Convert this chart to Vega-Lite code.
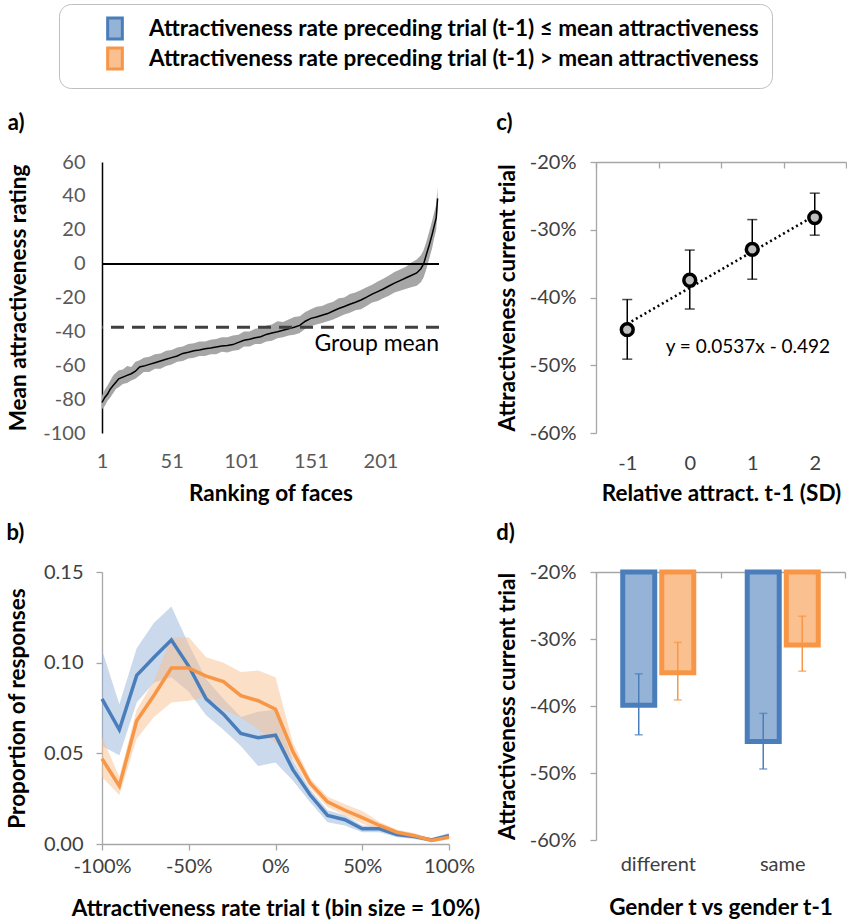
{
  "$schema": "https://vega.github.io/schema/vega-lite/v6.json",
  "padding": {"left": 6, "top": 3, "right": 0, "bottom": 0},
  "background": "white",
  "columns": 2,
  "spacing": {"row": 138, "column": 147},
  "bounds": "flush",
  "align": "all",
  "config": {
    "font": "Lato",
    "view": {"stroke": null},
    "axis": {"labelFontSize": 20, "titleFontSize": 22.5, "titleFontWeight": "bold", "titleColor": "black", "labelColor": "#404040", "grid": false, "domainColor": "#a6a6a6", "tickColor": "#a6a6a6", "domainWidth": 1.3, "tickWidth": 1.3, "labelOverlap": false, "labelFlush": false},
    "title": {"fontSize": 22, "fontWeight": "bold", "anchor": "start", "color": "black", "offset": 17}
  },
  "concat": [
    {
      "width": 337, "height": 271,
      "title": {"text": "a)"},
      "data": {"values": [
        {"r":1,"m":-82,"lo":-86,"hi":-78},{"r":3,"m":-79,"lo":-84,"hi":-74.5},{"r":5,"m":-77,"lo":-81,"hi":-72},{"r":7,"m":-74,"lo":-79,"hi":-69},
        {"r":9,"m":-72,"lo":-76.5,"hi":-66},{"r":11,"m":-70,"lo":-74,"hi":-64.5},{"r":13,"m":-68,"lo":-73,"hi":-63},{"r":16,"m":-67,"lo":-71,"hi":-62.5},
        {"r":19,"m":-66,"lo":-70.5,"hi":-60.5},{"r":22,"m":-65,"lo":-69,"hi":-61},{"r":25,"m":-63.5,"lo":-68,"hi":-58},{"r":28,"m":-61,"lo":-66,"hi":-57},
        {"r":31,"m":-60.5,"lo":-64,"hi":-55.5},{"r":35,"m":-59.5,"lo":-64,"hi":-55},{"r":39,"m":-58.5,"lo":-62,"hi":-53.5},{"r":43,"m":-57.5,"lo":-62,"hi":-53},
        {"r":47,"m":-56.5,"lo":-60.5,"hi":-51.5},{"r":51,"m":-55.5,"lo":-59.5,"hi":-51},{"r":55,"m":-54.5,"lo":-58,"hi":-49.5},{"r":59,"m":-53,"lo":-57.5,"hi":-49},
        {"r":63,"m":-52.3,"lo":-56,"hi":-47.5},{"r":67,"m":-51.5,"lo":-55.5,"hi":-47},{"r":71,"m":-51,"lo":-54.5,"hi":-46},{"r":75,"m":-50.3,"lo":-54.5,"hi":-46},
        {"r":79,"m":-49.8,"lo":-53.5,"hi":-45},{"r":83,"m":-49.2,"lo":-53.5,"hi":-44.5},{"r":87,"m":-48.7,"lo":-52,"hi":-43.5},{"r":91,"m":-48.3,"lo":-52.5,"hi":-43.5},
        {"r":95,"m":-47.8,"lo":-51.5,"hi":-42.5},{"r":99,"m":-46.5,"lo":-51,"hi":-42},{"r":103,"m":-45.2,"lo":-49,"hi":-40},{"r":107,"m":-44.6,"lo":-49,"hi":-40},
        {"r":111,"m":-43.8,"lo":-47.5,"hi":-38.5},{"r":115,"m":-43.2,"lo":-47.5,"hi":-38},{"r":119,"m":-41.8,"lo":-46,"hi":-36.5},{"r":123,"m":-41,"lo":-45.5,"hi":-36},
        {"r":127,"m":-40.2,"lo":-44,"hi":-34},{"r":131,"m":-39.3,"lo":-43.5,"hi":-34.5},{"r":135,"m":-38.5,"lo":-42.5,"hi":-33},{"r":139,"m":-37.6,"lo":-42,"hi":-31.5},
        {"r":143,"m":-36.5,"lo":-41,"hi":-31},{"r":147,"m":-34,"lo":-38.5,"hi":-28.5},{"r":151,"m":-32.3,"lo":-37,"hi":-27},{"r":155,"m":-31.5,"lo":-36,"hi":-25.5},
        {"r":159,"m":-30.5,"lo":-35,"hi":-25},{"r":163,"m":-29.5,"lo":-34,"hi":-23.5},{"r":167,"m":-28,"lo":-33,"hi":-22.5},{"r":171,"m":-26.5,"lo":-31.5,"hi":-20.5},
        {"r":175,"m":-25.3,"lo":-30,"hi":-20},{"r":179,"m":-24,"lo":-29,"hi":-18},{"r":183,"m":-22.8,"lo":-27.5,"hi":-17},{"r":187,"m":-21.5,"lo":-27,"hi":-15.5},
        {"r":191,"m":-19.8,"lo":-25,"hi":-14},{"r":195,"m":-18,"lo":-23,"hi":-12.5},{"r":199,"m":-16.5,"lo":-22,"hi":-10.5},{"r":203,"m":-15,"lo":-20.5,"hi":-9},
        {"r":207,"m":-13.2,"lo":-19,"hi":-7},{"r":211,"m":-11.5,"lo":-17,"hi":-5},{"r":215,"m":-10,"lo":-16,"hi":-3.5},{"r":219,"m":-8.5,"lo":-15,"hi":-2},
        {"r":223,"m":-7,"lo":-14,"hi":0.5},{"r":227,"m":-5.5,"lo":-13,"hi":2.5},{"r":230,"m":-3,"lo":-11,"hi":5},{"r":232,"m":0,"lo":-8,"hi":8},
        {"r":234,"m":5.5,"lo":-3,"hi":13},{"r":236,"m":11,"lo":3,"hi":19},{"r":238,"m":17,"lo":9,"hi":25},{"r":239.5,"m":22,"lo":15,"hi":30},
        {"r":241,"m":27,"lo":20,"hi":35},{"r":242,"m":38.5,"lo":32,"hi":45}
      ]},
      "layer": [
        {
          "mark": {"type": "area", "color": "#a6a6a6"},
          "encoding": {
            "x": {"field": "r", "type": "quantitative", "scale": {"domain": [1, 243], "nice": false, "zero": false},
                  "axis": {"values": [1, 51, 101, 151, 201], "domain": false, "ticks": false, "labelPadding": 18, "labelColor": "#595959", "labelExpr": "'' + datum.value", "title": "Ranking of faces", "titlePadding": 11}},
            "y": {"field": "lo", "type": "quantitative", "scale": {"domain": [-100, 60], "nice": false, "zero": false},
                  "axis": {"tickCount": 8, "labelOverlap": false, "labelSeparation": 0, "tickSize": 0, "domainColor": "black", "domainWidth": 1.5, "labelPadding": 17, "labelColor": "#595959", "labelExpr": "'' + datum.value", "title": "Mean attractiveness rating", "titlePadding": 12}},
            "y2": {"field": "hi"}
          }
        },
        {
          "mark": {"type": "line", "color": "black", "strokeWidth": 1.5},
          "encoding": {"x": {"field": "r", "type": "quantitative"}, "y": {"field": "m", "type": "quantitative"}}
        },
        {
          "mark": {"type": "rule", "color": "black", "strokeWidth": 1.5},
          "encoding": {"y": {"datum": 0}}
        },
        {
          "data": {"values": [{"label": "Group mean", "r": 243, "m": -37.5}]},
          "layer": [
            {"mark": {"type": "rule", "color": "#404040", "strokeWidth": 3, "strokeDash": [13, 8]},
             "encoding": {"y": {"field": "m", "type": "quantitative"}}},
            {"mark": {"type": "text", "align": "right", "baseline": "top", "dy": 6, "fontSize": 23, "color": "black"},
             "encoding": {"x": {"field": "r", "type": "quantitative"}, "y": {"field": "m", "type": "quantitative"}, "text": {"field": "label"}}}
          ]
        }
      ]
    },
    {
      "width": 250, "height": 271,
      "title": {"text": "c)"},
      "data": {"values": [
        {"sd": -1, "m": -0.4475, "lo": -0.491, "hi": -0.403},
        {"sd": 0, "m": -0.3745, "lo": -0.417, "hi": -0.330},
        {"sd": 1, "m": -0.329, "lo": -0.373, "hi": -0.285},
        {"sd": 2, "m": -0.282, "lo": -0.308, "hi": -0.246}
      ]},
      "resolve": {"axis": {"x": "independent"}},
      "layer": [
        {
          "data": {"values": [{"sd": -1, "fit": -0.439}, {"sd": 2, "fit": -0.279}]},
          "mark": {"type": "line", "color": "black", "strokeWidth": 2.5, "strokeDash": [2, 3]},
          "encoding": {
            "x": {"field": "sd", "type": "quantitative", "scale": {"domain": [-1.5, 2.5], "nice": false, "zero": false},
                  "axis": {"orient": "top", "values": [-1.5, -0.5, 0.5, 1.5, 2.5], "labels": false, "tickSize": -6, "title": null}},
            "y": {"field": "fit", "type": "quantitative", "scale": {"domain": [-0.6, -0.2], "nice": false, "zero": false},
                  "axis": {"values": [-0.6, -0.5, -0.4, -0.3, -0.2], "tickSize": 6, "labelPadding": 14, "labelExpr": "round(datum.value*100) + '%'", "title": "Attractiveness current trial", "titlePadding": 10}}
          }
        },
        {
          "mark": {"type": "rule", "color": "black", "strokeWidth": 1.5},
          "encoding": {
            "x": {"field": "sd", "type": "quantitative",
                  "axis": {"values": [-1, 0, 1, 2], "domain": false, "ticks": false, "labelPadding": 20, "labelExpr": "'' + datum.value", "title": "Relative attract. t-1 (SD)", "titlePadding": 9}},
            "y": {"field": "lo", "type": "quantitative"},
            "y2": {"field": "hi"}
          }
        },
        {
          "mark": {"type": "tick", "orient": "horizontal", "color": "black", "size": 10, "thickness": 1.5},
          "encoding": {"x": {"field": "sd", "type": "quantitative", "axis": null}, "y": {"field": "lo", "type": "quantitative"}}
        },
        {
          "mark": {"type": "tick", "orient": "horizontal", "color": "black", "size": 10, "thickness": 1.5},
          "encoding": {"x": {"field": "sd", "type": "quantitative", "axis": null}, "y": {"field": "hi", "type": "quantitative"}}
        },
        {
          "mark": {"type": "point", "shape": "circle", "filled": true, "size": 140, "fill": "#bfbfbf", "stroke": "black", "strokeWidth": 3.5, "opacity": 1},
          "encoding": {"x": {"field": "sd", "type": "quantitative", "axis": null}, "y": {"field": "m", "type": "quantitative"}}
        },
        {
          "data": {"values": [{"sd": 0.93, "m": -0.4735, "label": "y = 0.0537x - 0.492"}]},
          "mark": {"type": "text", "fontSize": 19, "color": "black"},
          "encoding": {"x": {"field": "sd", "type": "quantitative", "axis": null}, "y": {"field": "m", "type": "quantitative"}, "text": {"field": "label"}}
        }
      ]
    },
    {
      "width": 347, "height": 272,
      "title": {"text": "b)"},
      "data": {"values": [
        {"bin":-100,"g":"low","m":0.080,"lo":0.054,"hi":0.107},{"bin":-90,"g":"low","m":0.063,"lo":0.049,"hi":0.077},
        {"bin":-80,"g":"low","m":0.093,"lo":0.078,"hi":0.108},{"bin":-70,"g":"low","m":0.103,"lo":0.089,"hi":0.122},
        {"bin":-60,"g":"low","m":0.1125,"lo":0.092,"hi":0.131},{"bin":-50,"g":"low","m":0.098,"lo":0.084,"hi":0.110},
        {"bin":-40,"g":"low","m":0.080,"lo":0.071,"hi":0.091},{"bin":-30,"g":"low","m":0.0716,"lo":0.063,"hi":0.080},
        {"bin":-20,"g":"low","m":0.061,"lo":0.054,"hi":0.070},{"bin":-10,"g":"low","m":0.0586,"lo":0.043,"hi":0.073},
        {"bin":0,"g":"low","m":0.060,"lo":0.045,"hi":0.074},{"bin":10,"g":"low","m":0.041,"lo":0.035,"hi":0.046},
        {"bin":20,"g":"low","m":0.027,"lo":0.023,"hi":0.030},{"bin":30,"g":"low","m":0.0158,"lo":0.012,"hi":0.0186},
        {"bin":40,"g":"low","m":0.0134,"lo":0.0102,"hi":0.0158},{"bin":50,"g":"low","m":0.0084,"lo":0.0065,"hi":0.0102},
        {"bin":60,"g":"low","m":0.0084,"lo":0.0065,"hi":0.0102},{"bin":70,"g":"low","m":0.0052,"lo":0.0037,"hi":0.0065},
        {"bin":80,"g":"low","m":0.0041,"lo":0.0028,"hi":0.0052},{"bin":90,"g":"low","m":0.0022,"lo":0.0011,"hi":0.0033},
        {"bin":100,"g":"low","m":0.0046,"lo":0.0033,"hi":0.006},
        {"bin":-100,"g":"high","m":0.047,"lo":0.037,"hi":0.059},{"bin":-90,"g":"high","m":0.032,"lo":0.027,"hi":0.037},
        {"bin":-80,"g":"high","m":0.068,"lo":0.058,"hi":0.074},{"bin":-70,"g":"high","m":0.082,"lo":0.070,"hi":0.090},
        {"bin":-60,"g":"high","m":0.097,"lo":0.078,"hi":0.114},{"bin":-50,"g":"high","m":0.097,"lo":0.079,"hi":0.114},
        {"bin":-40,"g":"high","m":0.0926,"lo":0.081,"hi":0.103},{"bin":-30,"g":"high","m":0.0896,"lo":0.0743,"hi":0.100},
        {"bin":-20,"g":"high","m":0.0818,"lo":0.0697,"hi":0.0948},{"bin":-10,"g":"high","m":0.079,"lo":0.0632,"hi":0.0957},
        {"bin":0,"g":"high","m":0.0743,"lo":0.0558,"hi":0.092},{"bin":10,"g":"high","m":0.051,"lo":0.0465,"hi":0.0558},
        {"bin":20,"g":"high","m":0.0335,"lo":0.0307,"hi":0.0362},{"bin":30,"g":"high","m":0.0232,"lo":0.0204,"hi":0.026},
        {"bin":40,"g":"high","m":0.0186,"lo":0.0158,"hi":0.0219},{"bin":50,"g":"high","m":0.0145,"lo":0.0112,"hi":0.0182},
        {"bin":60,"g":"high","m":0.0102,"lo":0.0084,"hi":0.0121},{"bin":70,"g":"high","m":0.0065,"lo":0.0052,"hi":0.0078},
        {"bin":80,"g":"high","m":0.0046,"lo":0.0037,"hi":0.006},{"bin":90,"g":"high","m":0.0019,"lo":0.0009,"hi":0.0028},
        {"bin":100,"g":"high","m":0.0037,"lo":0.0028,"hi":0.0052}
      ]},
      "layer": [
        {
          "mark": {"type": "area", "fillOpacity": 0.5},
          "encoding": {
            "x": {"field": "bin", "type": "quantitative", "scale": {"domain": [-100, 100], "nice": false, "zero": false},
                  "axis": {"values": [-100, -50, 0, 50, 100], "tickSize": 6, "labelPadding": 6, "labelExpr": "datum.value + '%'", "title": "Attractiveness rate trial t (bin size = 10%)", "titlePadding": 21}},
            "y": {"field": "lo", "type": "quantitative", "scale": {"domain": [0, 0.15], "nice": false},
                  "axis": {"values": [0, 0.05, 0.1, 0.15], "tickSize": 6, "labelPadding": 13, "labelExpr": "format(datum.value, '.2f')", "title": "Proportion of responses", "titlePadding": 14}},
            "y2": {"field": "hi"},
            "fill": {"field": "g", "type": "nominal", "scale": {"domain": ["low", "high"], "range": ["#95b3d7", "#fac090"]}}
          }
        },
        {
          "mark": {"type": "line", "strokeWidth": 3.5},
          "encoding": {
            "x": {"field": "bin", "type": "quantitative"},
            "y": {"field": "m", "type": "quantitative"},
            "stroke": {"field": "g", "type": "nominal", "scale": {"domain": ["low", "high"], "range": ["#4a7ebb", "#f79646"]}}
          }
        }
      ]
    },
    {
      "width": 249, "height": 268,
      "title": {"text": "d)"},
      "data": {"values": [
        {"gender": "different", "g": "low", "m": -0.399, "lo": -0.443, "hi": -0.352},
        {"gender": "different", "g": "high", "m": -0.3505, "lo": -0.391, "hi": -0.305},
        {"gender": "same", "g": "low", "m": -0.453, "lo": -0.494, "hi": -0.411},
        {"gender": "same", "g": "high", "m": -0.309, "lo": -0.348, "hi": -0.266}
      ]},
      "resolve": {"axis": {"x": "independent"}},
      "layer": [
        {
          "mark": {"type": "bar", "strokeWidth": 5, "strokeJoin": "miter"},
          "encoding": {
            "x": {"field": "gender", "type": "nominal", "scale": {"paddingInner": 0, "paddingOuter": 0},
                  "axis": {"orient": "top", "tickBand": "extent", "labels": false, "tickSize": -6, "title": null}},
            "xOffset": {"field": "g", "type": "nominal", "scale": {"domain": ["low", "high"], "paddingInner": 0.18, "paddingOuter": 0.685}},
            "y": {"field": "m", "type": "quantitative", "scale": {"domain": [-0.6, -0.2], "nice": false, "zero": false},
                  "axis": {"values": [-0.6, -0.5, -0.4, -0.3, -0.2], "tickSize": 6, "labelPadding": 14, "labelExpr": "round(datum.value*100) + '%'", "title": "Attractiveness current trial", "titlePadding": 10}},
            "y2": {"datum": -0.2},
            "fill": {"field": "g", "type": "nominal", "scale": {"domain": ["low", "high"], "range": ["#95b3d7", "#fac090"]},
                     "legend": {"orient": "none", "legendX": -43, "legendY": -158, "title": null, "direction": "vertical", "symbolType": "M-0.7,-1H0.7V1H-0.7Z", "symbolSize": 441, "symbolStrokeWidth": 3, "labelFontSize": 22.5, "labelFontWeight": "bold", "labelColor": "black", "labelLimit": 900, "labelOffset": 22, "rowPadding": -4, "padding": 12.5, "strokeColor": "#bfbfbf", "cornerRadius": 12, "fillColor": "white", "symbolOffset": 31.5,
                                "labelExpr": "datum.value == 'low' ? 'Attractiveness rate preceding trial (t-1) ≤ mean attractiveness' : 'Attractiveness rate preceding trial (t-1) > mean attractiveness'"}},
            "stroke": {"field": "g", "type": "nominal", "scale": {"domain": ["low", "high"], "range": ["#4a7ebb", "#f79646"]},
                     "legend": {"orient": "none", "legendX": -43, "legendY": -158, "title": null, "direction": "vertical", "symbolType": "M-0.7,-1H0.7V1H-0.7Z", "symbolSize": 441, "symbolStrokeWidth": 3, "labelFontSize": 22.5, "labelFontWeight": "bold", "labelColor": "black", "labelLimit": 900, "labelOffset": 22, "rowPadding": -4, "padding": 12.5, "strokeColor": "#bfbfbf", "cornerRadius": 12, "fillColor": "white", "symbolOffset": 31.5,
                                "labelExpr": "datum.value == 'low' ? 'Attractiveness rate preceding trial (t-1) ≤ mean attractiveness' : 'Attractiveness rate preceding trial (t-1) > mean attractiveness'"}}
          }
        },
        {
          "mark": {"type": "rule", "strokeWidth": 1.5},
          "encoding": {
            "x": {"field": "gender", "type": "nominal",
                  "axis": {"orient": "bottom", "domain": false, "ticks": false, "labelPadding": 14, "labelAngle": 0, "title": "Gender t vs gender t-1", "titlePadding": 22}},
            "xOffset": {"field": "g", "type": "nominal"},
            "y": {"field": "lo", "type": "quantitative"},
            "y2": {"field": "hi"},
            "stroke": {"field": "g", "type": "nominal"}
          }
        },
        {
          "mark": {"type": "tick", "orient": "horizontal", "size": 8, "thickness": 1.5},
          "encoding": {
            "x": {"field": "gender", "type": "nominal", "axis": null},
            "xOffset": {"field": "g", "type": "nominal"},
            "y": {"field": "lo", "type": "quantitative"},
            "color": {"field": "g", "type": "nominal", "scale": {"domain": ["low", "high"], "range": ["#4a7ebb", "#f79646"]}, "legend": null}
          }
        },
        {
          "mark": {"type": "tick", "orient": "horizontal", "size": 8, "thickness": 1.5},
          "encoding": {
            "x": {"field": "gender", "type": "nominal", "axis": null},
            "xOffset": {"field": "g", "type": "nominal"},
            "y": {"field": "hi", "type": "quantitative"},
            "color": {"field": "g", "type": "nominal", "legend": null}
          }
        }
      ]
    }
  ]
}
